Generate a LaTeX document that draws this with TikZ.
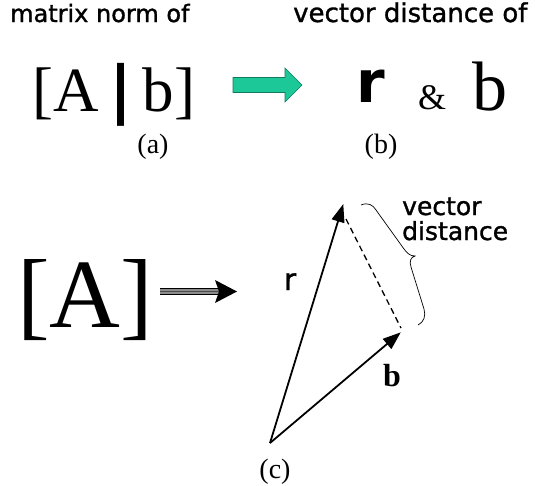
\documentclass[tikz,border=0pt]{standalone}
\usepackage{fontspec}
\setmainfont{Liberation Serif}
\newfontfamily\handfont[FakeBold=1.2]{DejaVu Sans}
\newfontfamily\handbold{DejaVu Sans Bold}
\usetikzlibrary{arrows.meta}
\definecolor{arrowgreen}{HTML}{1CC898}
\definecolor{arrowedge}{HTML}{137A5E}
\tikzset{
  hand/.style={font=\handfont\fontsize{#1}{#1}\selectfont, inner sep=0pt},
  serif/.style={font=\fontsize{#1}{#1}\selectfont, inner sep=0pt},
  vec/.style={line width=1.8pt, -{Triangle[length=18pt,width=13pt]}, shorten >=-1pt},
  dashline/.style={line width=1.3pt, dash pattern=on 6pt off 4pt},
}
\begin{document}
\begin{tikzpicture}[x=1pt,y=-1pt]
\useasboundingbox[fill=white] (0,0) rectangle (535,485);
% headings
\node[hand=24, anchor=base west] (t1) at (10,22) {matrix norm of};
\node[hand=26, anchor=base west] (t2) at (293,22) {vector distance of};
% (a)
\node[serif=63, anchor=base west] (Ab) at (32,111) {[A\,{\handbold|}\,b]};
% green arrow
\draw[fill=arrowgreen, draw=arrowedge, line width=0.6pt]
  (233,77.5) -- (285,77.5) -- (285,68) -- (302,85) -- (285,102) -- (285,92.5) -- (233,92.5) -- cycle;
% (b)
\node[inner sep=0pt, font=\handbold\fontsize{58}{58}\selectfont, anchor=base west] (r) at (356,102) {r};
\node[serif=36, anchor=base west] (amp) at (418,109) {\&};
\node[serif=70, anchor=base west] (b) at (472,110) {b};
\node[serif=28] (la) at (153,147) {(a)};
\node[serif=28] (lb) at (381,147) {(b)};
% (c)
\node[serif=98, anchor=base west] (A) at (17,327) {[A]};
\coordinate (s0) at (160,291.5);
\coordinate (s1) at (220,291.5);
\coordinate (s2) at (237,291.5);
\fill[black!45] (160,288) rectangle (219,295);
\draw[line width=1.6pt] (160,288.5) -- (219,288.5);
\draw[line width=1.6pt] (160,294.5) -- (219,294.5);
\draw[line width=1pt, black!70] (s0) -- (s1);
\fill (215,280) -- (s2) -- (215,303) -- (219,291.5) -- cycle;
% vectors
\coordinate (O) at (270,443);
\coordinate (R) at (343,205);
\coordinate (B) at (400,333);
\coordinate (D1) at (346,219);
\coordinate (D2) at (401,328);
\draw[vec] (O) -- (R);
\draw[vec] (O) -- (B);
\draw[dashline] (D1) -- (D2);
% brace
\draw[line width=0.7pt]
  (361,205) .. controls (368,202) and (373,205) .. (376,210)
  -- (404,249) .. controls (407,253) and (410,256) .. (415,256)
  .. controls (411,257) and (409,261) .. (411,267)
  -- (424,309) .. controls (426,316) and (424,322) .. (418,325);
\node[hand=25, anchor=base west] (vd1) at (402,215) {vector};
\node[hand=25, anchor=base west] (vd2) at (402,240) {distance};
\node[hand=30, anchor=base] (rl) at (290,290) {r};
\node[inner sep=0pt, anchor=base, font=\bfseries\fontsize{32}{32}\selectfont] (bl) at (392,386) {b};
\node[serif=28] (lc) at (275,472) {(c)};
\end{tikzpicture}
\end{document}
